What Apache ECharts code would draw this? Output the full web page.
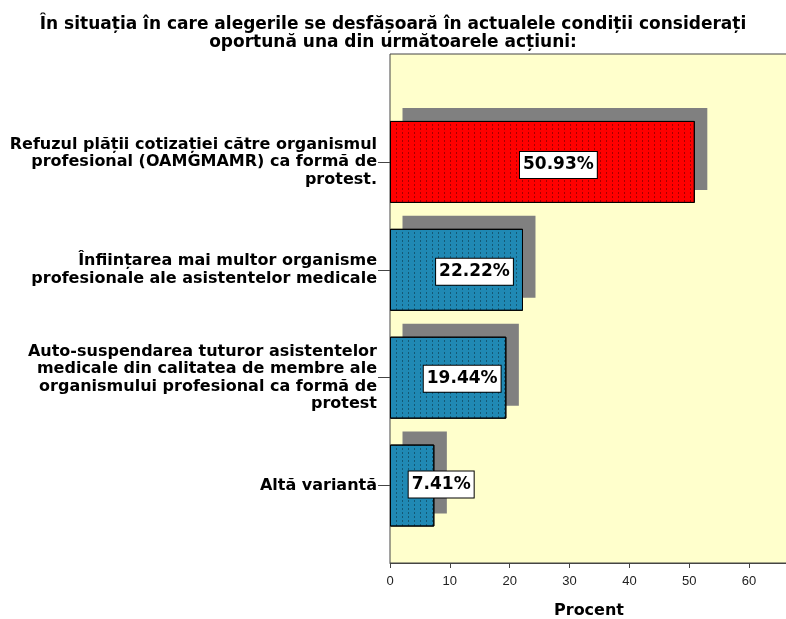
<!DOCTYPE html>
<html>
<head>
<meta charset="utf-8">
<script src="https://cdn.jsdelivr.net/npm/echarts@6/dist/echarts.min.js"></script>
<style>
html,body{margin:0;padding:0;background:#fff;}
#chart{width:786px;height:619px;}
</style>
</head>
<body>
<div id="chart"></div>
<script>
var titleText = 'În situația în care alegerile se desfășoară în actualele condiții considerați\noportună una din următoarele acțiuni:';
var categories = [
  'Refuzul plății cotizației către organismul\nprofesional (OAMGMAMR) ca formă de\nprotest.',
  'Înființarea mai multor organisme\nprofesionale ale asistentelor medicale',
  'Auto-suspendarea tuturor asistentelor\nmedicale din calitatea de membre ale\norganismului profesional ca formă de\nprotest',
  'Altă variantă'
];
var percentValues = [50.93, 22.22, 19.44, 7.41];
var xTickLabels = ['0', '10', '20', '30', '40', '50', '60'];
var axisName = 'Procent';

var barColors = ['#ff0000', '#2089b4', '#2089b4', '#2089b4'];
var labelOffsets = [[16, 3], [18, 2], [14, 1], [29, -1]];
var X_MAX = 66.5;
var WIDE = '"DejaVu Sans", Verdana, sans-serif';
var ARIAL = '"Liberation Sans", Arial, sans-serif';

var decal = {
  symbol: 'rect',
  symbolSize: 1,
  color: 'rgba(0,0,0,0.35)',
  dashArrayX: [1, 5],
  dashArrayY: [2, 2],
  rotation: 0
};

var barData = percentValues.map(function (v, i) {
  return {
    value: v,
    itemStyle: { color: barColors[i], borderColor: '#000', borderWidth: 1, decal: decal },
    label: { offset: labelOffsets[i] }
  };
});

var chart = echarts.init(document.getElementById('chart'), null, { renderer: 'canvas' });
chart.setOption({
  animation: false,
  backgroundColor: '#fff',
  title: {
    text: titleText,
    left: 'center',
    top: 11,
    textStyle: { fontFamily: WIDE, fontSize: 17, fontWeight: 'bold', color: '#000', lineHeight: 17.5 }
  },
  grid: [
    { left: 390, right: -2, top: 54, bottom: 56, show: true, backgroundColor: '#ffffcc', borderColor: '#444', borderWidth: 1, z: 0, outerBoundsMode: 'none', containLabel: false },
    { left: 390, right: -2, top: 108, height: 431.5, outerBoundsMode: 'none', containLabel: false },
    { left: 402.5, right: -14.5, top: 95, height: 431.5, outerBoundsMode: 'none', containLabel: false }
  ],
  xAxis: [
    {
      gridIndex: 0, type: 'value', min: 0, max: X_MAX, interval: 10,
      axisLine: { show: true, lineStyle: { color: '#444', width: 1 } },
      axisTick: { show: true, length: 5, lineStyle: { color: '#444' } },
      axisLabel: {
        show: true, showMaxLabel: false, margin: 12, color: '#222', fontFamily: ARIAL, fontSize: 13,
        formatter: function (v) { var s = String(Math.round(v)); return xTickLabels.indexOf(s) >= 0 && Math.abs(v - Math.round(v)) < 1e-6 ? s : ''; }
      },
      splitLine: { show: false },
      name: axisName, nameLocation: 'middle', nameGap: 40,
      nameTextStyle: { fontFamily: WIDE, fontSize: 16, fontWeight: 'bold', color: '#000' }
    },
    { gridIndex: 1, type: 'value', min: 0, max: X_MAX, show: false },
    { gridIndex: 2, type: 'value', min: 0, max: X_MAX, show: false }
  ],
  yAxis: [
    { gridIndex: 0, type: 'value', show: false },
    {
      gridIndex: 1, type: 'category', data: categories, inverse: true,
      axisLine: { show: false },
      axisTick: { show: true, alignWithLabel: true, length: 12, lineStyle: { color: '#444' } },
      axisLabel: {
        margin: 13, color: '#000', fontFamily: WIDE, fontSize: 16, fontWeight: 'bold',
        lineHeight: 17.5, align: 'right'
      }
    },
    { gridIndex: 2, type: 'category', data: categories, inverse: true, show: false }
  ],
  series: [
    {
      type: 'bar', xAxisIndex: 2, yAxisIndex: 2, data: percentValues, barWidth: '76%',
      itemStyle: { color: '#808080' }, silent: true, z: 1
    },
    {
      type: 'bar', xAxisIndex: 1, yAxisIndex: 1, data: barData, barWidth: '76%', z: 3,
      label: {
        show: true, position: 'inside',
        formatter: function (p) { return p.value.toFixed(2) + '%'; },
        fontFamily: WIDE, fontSize: 17, fontWeight: 'bold', color: '#000',
        backgroundColor: '#fff', borderColor: '#000', borderWidth: 1,
        padding: [5, 3, 4, 3]
      }
    }
  ]
});
</script>
</body>
</html>
